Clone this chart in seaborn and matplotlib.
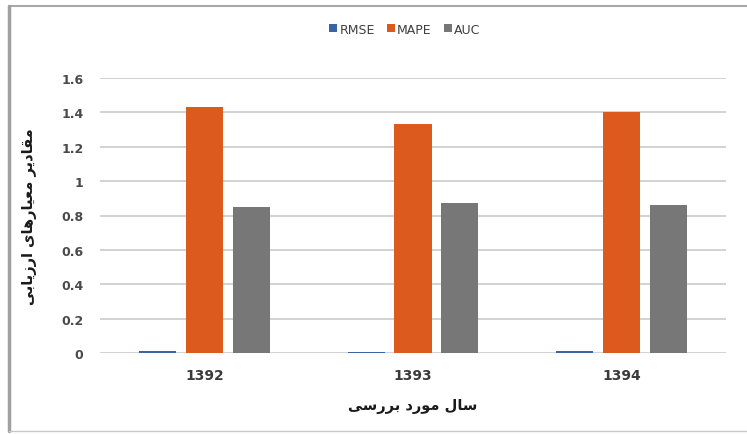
import pandas as pd
import matplotlib.pyplot as plt
import seaborn as sns
from matplotlib.lines import Line2D

# values
years = ["1392", "1393", "1394"]
metrics = ["RMSE", "MAPE", "AUC"]
rmse = [0.013, 0.008, 0.012]
mape = [1.43, 1.33, 1.40]
auc = [0.85, 0.87, 0.86]
yticks = [0, 0.2, 0.4, 0.6, 0.8, 1, 1.2, 1.4, 1.6]
ytick_labels = ["0", "0.2", "0.4", "0.6", "0.8", "1", "1.2", "1.4", "1.6"]
x_title = "سال مورد بررسی"
y_title = "مقادیر معیارهای ارزیابی"

colors = ["#3B63A8", "#DC5A1E", "#777777"]

# matplotlib does no Arabic shaping, so pick the presentation forms by hand
FORMS = {
    "ا": ("\uFE8D", "\uFE8E", None, None),
    "ب": ("\uFE8F", "\uFE90", "\uFE91", "\uFE92"),
    "د": ("\uFEA9", "\uFEAA", None, None),
    "ر": ("\uFEAD", "\uFEAE", None, None),
    "ز": ("\uFEAF", "\uFEB0", None, None),
    "س": ("\uFEB1", "\uFEB2", "\uFEB3", "\uFEB4"),
    "ع": ("\uFEC9", "\uFECA", "\uFECB", "\uFECC"),
    "ق": ("\uFED5", "\uFED6", "\uFED7", "\uFED8"),
    "ل": ("\uFEDD", "\uFEDE", "\uFEDF", "\uFEE0"),
    "م": ("\uFEE1", "\uFEE2", "\uFEE3", "\uFEE4"),
    "ه": ("\uFEE9", "\uFEEA", "\uFEEB", "\uFEEC"),
    "و": ("\uFEED", "\uFEEE", None, None),
    "ی": ("\uFBFC", "\uFBFD", "\uFBFE", "\uFBFF"),
}


def shape(text):
    out = []
    i = 0
    while i < len(text):
        c = text[i]
        if c not in FORMS:
            out.append(c)
            i += 1
            continue
        prev = text[i - 1] if i > 0 else None
        nxt = text[i + 1] if i + 1 < len(text) else None
        join_prev = prev in FORMS and FORMS[prev][2] is not None
        if c == "ل" and nxt == "ا":
            out.append("\uFEFC" if join_prev else "\uFEFB")
            i += 2
            continue
        join_next = FORMS[c][2] is not None and nxt in FORMS
        iso, fin, ini, med = FORMS[c]
        if join_prev and join_next:
            out.append(med)
        elif join_prev:
            out.append(fin)
        elif join_next:
            out.append(ini)
        else:
            out.append(iso)
        i += 1
    return "".join(reversed(out))


df = pd.DataFrame({
    "year": years * 3,
    "metric": [m for m in metrics for _ in years],
    "value": rmse + mape + auc,
})

sns.set_style("white")
plt.rcParams["font.family"] = ["DejaVu Sans"]

fig = plt.figure(figsize=(7.47, 4.35), dpi=100)
ax = fig.add_axes([100 / 747, 1 - 354 / 435, 626 / 747, 275 / 435])

sns.barplot(data=df, x="year", y="value", hue="metric", order=years,
            hue_order=metrics, palette=colors, saturation=1, width=0.675,
            gap=0.21, linewidth=0, ax=ax)

ax.set_ylim(0, 1.6)
ax.set_xlim(-0.5, 2.5)
ax.set_yticks(yticks)
ax.set_yticklabels(ytick_labels)
ax.grid(axis="y", color="#CFCFCF", linewidth=1.3)
ax.set_axisbelow(True)
for s in ax.spines.values():
    s.set_visible(False)
ax.tick_params(axis="y", length=0, pad=12, labelsize=9, labelcolor="#4A4A4A")
ax.tick_params(axis="x", length=0, pad=11, labelsize=10, labelcolor="#3A3A3A")
for t in ax.get_xticklabels() + ax.get_yticklabels():
    t.set_fontweight("bold")

ax.set_xlabel(shape(x_title), fontsize=10.5, fontweight="bold",
              color="#1A1A1A", va="center")
ax.xaxis.set_label_coords(0.5, (354 - 407) / 275)
ax.set_ylabel(shape(y_title), fontsize=10.5, fontweight="bold",
              color="#1A1A1A", va="center")
ax.yaxis.set_label_coords((30 - 100) / 626, 0.5)

handles, labels = ax.get_legend_handles_labels()
ax.get_legend().remove()
fig.legend(handles, labels, loc="center", bbox_to_anchor=(405 / 747, 1 - 30 / 435),
           ncol=3, frameon=False, fontsize=9, handlelength=0.6, handleheight=0.6,
           handletextpad=0.2, columnspacing=1.0, labelcolor="#404040")

# chart frame like the pasted Excel picture
fig.add_artist(Line2D([9 / 747, 1], [1 - 7 / 435, 1 - 7 / 435], color="#A8A8A8", lw=1.5))
fig.add_artist(Line2D([9 / 747, 9 / 747], [1 - 7 / 435, 1 - 432 / 435], color="#A0A0A0", lw=2.5))
fig.add_artist(Line2D([9 / 747, 1], [1 - 432 / 435, 1 - 432 / 435], color="#C8C8C8", lw=1))

fig.savefig("out.png", dpi=100)
